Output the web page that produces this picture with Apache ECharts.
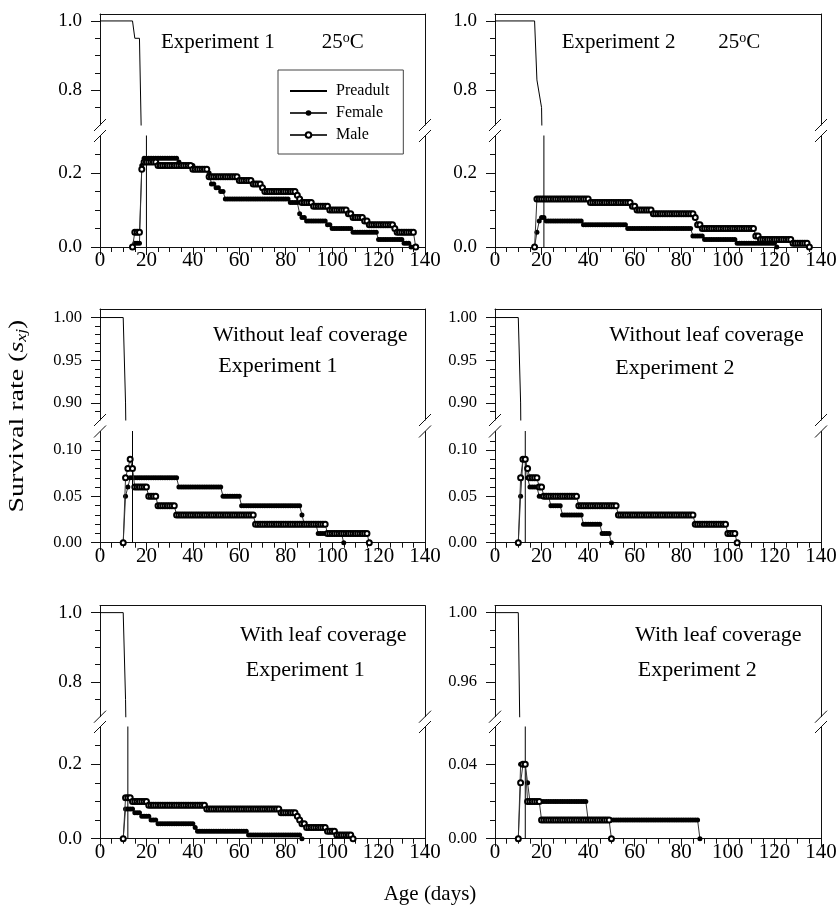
<!DOCTYPE html>
<html>
<head>
<meta charset="utf-8">
<script src="https://cdn.jsdelivr.net/npm/echarts@6/dist/echarts.min.js"></script>
<style>html,body{margin:0;padding:0;background:#fff}#c{width:836px;height:908px}</style>
</head>
<body>
<div id="c"></div>
<script>
// ---------------- DATA (survival rate per day of age) ----------------
const xTickValues = [0, 20, 40, 60, 80, 100, 120, 140];

// Panel A: Experiment 1, 25 oC
const preadultA = [[0, 1], [14, 1], [15, 0.95], [17, 0.95], [18, 0.6], [20, 0.32], [20, 0]];
const femaleStartA = 14;
const femaleA = [
  0,
  0.01, 0.01, 0.01,
  0.22,
  0.24, 0.24, 0.24, 0.24, 0.24, 0.24, 0.24, 0.24, 0.24, 0.24, 0.24, 0.24, 0.24, 0.24, 0.24,
  0.23,
  0.22, 0.22, 0.22, 0.22, 0.22, 0.22,
  0.21, 0.21, 0.21, 0.21, 0.21, 0.21,
  0.20,
  0.17, 0.17,
  0.16, 0.16,
  0.15, 0.15,
  0.13, 0.13, 0.13, 0.13, 0.13, 0.13, 0.13, 0.13, 0.13, 0.13,
  0.13, 0.13, 0.13, 0.13, 0.13, 0.13, 0.13, 0.13, 0.13, 0.13,
  0.13, 0.13, 0.13, 0.13, 0.13, 0.13, 0.13, 0.13,
  0.12, 0.12, 0.12, 0.12,
  0.09,
  0.08, 0.08,
  0.07, 0.07, 0.07, 0.07, 0.07, 0.07, 0.07, 0.07, 0.07,
  0.06, 0.06,
  0.05, 0.05, 0.05, 0.05, 0.05, 0.05, 0.05, 0.05, 0.05,
  0.04, 0.04, 0.04, 0.04, 0.04, 0.04, 0.04, 0.04, 0.04, 0.04, 0.04,
  0.02, 0.02, 0.02, 0.02, 0.02, 0.02, 0.02, 0.02, 0.02, 0.02, 0.02,
  0.01, 0.01, 0.01,
  0
];
const maleStartA = 14;
const maleA = [
  0,
  0.04, 0.04, 0.04,
  0.21,
  0.23, 0.23, 0.23, 0.23, 0.23, 0.23,
  0.22, 0.22, 0.22, 0.22, 0.22, 0.22, 0.22, 0.22, 0.22, 0.22, 0.22, 0.22, 0.22, 0.22, 0.22,
  0.21, 0.21, 0.21, 0.21, 0.21, 0.21, 0.21,
  0.19, 0.19, 0.19, 0.19, 0.19, 0.19, 0.19, 0.19, 0.19, 0.19, 0.19, 0.19, 0.19,
  0.18, 0.18, 0.18, 0.18, 0.18, 0.18,
  0.17, 0.17, 0.17, 0.17,
  0.16,
  0.15, 0.15, 0.15, 0.15, 0.15, 0.15, 0.15, 0.15, 0.15, 0.15, 0.15, 0.15, 0.15, 0.15,
  0.14,
  0.13,
  0.12, 0.12, 0.12, 0.12, 0.12,
  0.11, 0.11, 0.11, 0.11, 0.11, 0.11, 0.11,
  0.10, 0.10, 0.10, 0.10, 0.10, 0.10, 0.10, 0.10,
  0.09, 0.09,
  0.08, 0.08, 0.08, 0.08, 0.08,
  0.07, 0.07,
  0.06, 0.06, 0.06, 0.06, 0.06, 0.06, 0.06, 0.06, 0.06, 0.06, 0.06,
  0.05,
  0.04, 0.04, 0.04, 0.04, 0.04, 0.04, 0.04, 0.04,
  0
];

// Panel B: Experiment 2, 25 oC
const preadultB = [[0, 1], [17, 1], [18, 0.83], [20, 0.75], [21, 0.32], [21, 0]];
const femaleStartB = 17;
const femaleB = [
  0,
  0.04,
  0.07,
  0.08, 0.08,
  0.07, 0.07, 0.07, 0.07, 0.07, 0.07, 0.07, 0.07, 0.07, 0.07, 0.07, 0.07, 0.07, 0.07, 0.07, 0.07,
  0.06, 0.06, 0.06, 0.06, 0.06, 0.06, 0.06, 0.06, 0.06, 0.06, 0.06, 0.06, 0.06, 0.06, 0.06, 0.06, 0.06, 0.06, 0.06,
  0.05, 0.05, 0.05, 0.05, 0.05, 0.05, 0.05, 0.05, 0.05, 0.05,
  0.05, 0.05, 0.05, 0.05, 0.05, 0.05, 0.05, 0.05, 0.05, 0.05,
  0.05, 0.05, 0.05, 0.05, 0.05, 0.05, 0.05, 0.05,
  0.03, 0.03, 0.03, 0.03, 0.03,
  0.02, 0.02, 0.02, 0.02, 0.02, 0.02, 0.02, 0.02, 0.02, 0.02, 0.02, 0.02, 0.02, 0.02,
  0.01, 0.01, 0.01, 0.01, 0.01, 0.01, 0.01, 0.01, 0.01, 0.01, 0.01, 0.01, 0.01, 0.01, 0.01, 0.01, 0.01,
  0
];
const maleStartB = 17;
const maleB = [
  0,
  0.13, 0.13, 0.13, 0.13, 0.13, 0.13, 0.13, 0.13, 0.13, 0.13,
  0.13, 0.13, 0.13, 0.13, 0.13, 0.13, 0.13, 0.13, 0.13, 0.13,
  0.13, 0.13, 0.13,
  0.12, 0.12, 0.12, 0.12, 0.12, 0.12, 0.12, 0.12, 0.12, 0.12, 0.12, 0.12, 0.12, 0.12, 0.12, 0.12, 0.12, 0.12,
  0.11, 0.11,
  0.10, 0.10, 0.10, 0.10, 0.10, 0.10, 0.10,
  0.09, 0.09, 0.09, 0.09, 0.09, 0.09, 0.09, 0.09, 0.09, 0.09, 0.09, 0.09, 0.09, 0.09, 0.09, 0.09, 0.09, 0.09,
  0.08,
  0.06, 0.06,
  0.05, 0.05, 0.05, 0.05, 0.05, 0.05, 0.05, 0.05, 0.05, 0.05,
  0.05, 0.05, 0.05, 0.05, 0.05, 0.05, 0.05, 0.05, 0.05, 0.05,
  0.05, 0.05, 0.05,
  0.03, 0.03,
  0.02, 0.02, 0.02, 0.02, 0.02, 0.02, 0.02, 0.02, 0.02, 0.02, 0.02, 0.02, 0.02, 0.02,
  0.01, 0.01, 0.01, 0.01, 0.01, 0.01, 0.01,
  0
];

// Panel C: Without leaf coverage, Experiment 1
const preadultC = [[0, 1], [10, 1], [11, 0.9], [12, 0.7], [14, 0.13], [14, 0]];
const femaleStartC = 10;
const femaleC = [
  0,
  0.05,
  0.06,
  0.07, 0.07, 0.07, 0.07, 0.07, 0.07, 0.07, 0.07, 0.07, 0.07,
  0.07, 0.07, 0.07, 0.07, 0.07, 0.07, 0.07, 0.07, 0.07, 0.07, 0.07,
  0.06, 0.06, 0.06, 0.06, 0.06, 0.06, 0.06, 0.06, 0.06, 0.06, 0.06, 0.06, 0.06, 0.06, 0.06, 0.06, 0.06, 0.06, 0.06,
  0.05, 0.05, 0.05, 0.05, 0.05, 0.05, 0.05, 0.05,
  0.04, 0.04, 0.04, 0.04, 0.04, 0.04, 0.04, 0.04, 0.04, 0.04, 0.04, 0.04, 0.04,
  0.04, 0.04, 0.04, 0.04, 0.04, 0.04, 0.04, 0.04, 0.04, 0.04, 0.04, 0.04, 0.04,
  0.03,
  0.02, 0.02, 0.02, 0.02, 0.02, 0.02,
  0.01, 0.01, 0.01, 0.01, 0.01, 0.01, 0.01, 0.01, 0.01, 0.01, 0.01,
  0
];
const maleStartC = 10;
const maleC = [
  0,
  0.07,
  0.08,
  0.09,
  0.08,
  0.06, 0.06, 0.06, 0.06, 0.06, 0.06,
  0.05, 0.05, 0.05, 0.05,
  0.04, 0.04, 0.04, 0.04, 0.04, 0.04, 0.04, 0.04,
  0.03, 0.03, 0.03, 0.03, 0.03, 0.03, 0.03, 0.03, 0.03, 0.03, 0.03, 0.03, 0.03, 0.03, 0.03, 0.03, 0.03,
  0.03, 0.03, 0.03, 0.03, 0.03, 0.03, 0.03, 0.03, 0.03, 0.03, 0.03, 0.03, 0.03, 0.03, 0.03, 0.03, 0.03,
  0.02, 0.02, 0.02, 0.02, 0.02, 0.02, 0.02, 0.02, 0.02, 0.02, 0.02, 0.02, 0.02, 0.02, 0.02, 0.02,
  0.02, 0.02, 0.02, 0.02, 0.02, 0.02, 0.02, 0.02, 0.02, 0.02, 0.02, 0.02, 0.02, 0.02, 0.02,
  0.01, 0.01, 0.01, 0.01, 0.01, 0.01, 0.01, 0.01, 0.01, 0.01, 0.01, 0.01, 0.01, 0.01, 0.01, 0.01, 0.01, 0.01,
  0
];

// Panel D: Without leaf coverage, Experiment 2
const preadultD = [[0, 1], [10, 1], [11, 0.9], [12, 0.6], [13, 0.13], [13, 0]];
const femaleStartD = 10;
const femaleD = [
  0,
  0.05,
  0.09, 0.09,
  0.07,
  0.06, 0.06, 0.06, 0.06,
  0.05, 0.05, 0.05, 0.05, 0.05,
  0.04, 0.04, 0.04, 0.04, 0.04,
  0.03, 0.03, 0.03, 0.03, 0.03, 0.03, 0.03, 0.03, 0.03,
  0.02, 0.02, 0.02, 0.02, 0.02, 0.02, 0.02, 0.02,
  0.01, 0.01, 0.01, 0.01,
  0
];
const maleStartD = 10;
const maleD = [
  0,
  0.07,
  0.09, 0.09,
  0.08,
  0.07, 0.07, 0.07, 0.07,
  0.06, 0.06,
  0.05, 0.05, 0.05, 0.05, 0.05, 0.05, 0.05, 0.05, 0.05, 0.05, 0.05, 0.05, 0.05, 0.05, 0.05,
  0.04, 0.04, 0.04, 0.04, 0.04, 0.04, 0.04, 0.04, 0.04, 0.04, 0.04, 0.04, 0.04, 0.04, 0.04, 0.04, 0.04,
  0.03, 0.03, 0.03, 0.03, 0.03, 0.03, 0.03, 0.03, 0.03, 0.03, 0.03,
  0.03, 0.03, 0.03, 0.03, 0.03, 0.03, 0.03, 0.03, 0.03, 0.03, 0.03,
  0.03, 0.03, 0.03, 0.03, 0.03, 0.03, 0.03, 0.03, 0.03, 0.03, 0.03,
  0.02, 0.02, 0.02, 0.02, 0.02, 0.02, 0.02, 0.02, 0.02, 0.02, 0.02, 0.02, 0.02, 0.02,
  0.01, 0.01, 0.01, 0.01,
  0
];

// Panel E: With leaf coverage, Experiment 1
const preadultE = [[0, 1], [10, 1], [11, 0.75], [12, 0.31], [12, 0]];
const femaleStartE = 10;
const femaleE = [
  0,
  0.08, 0.08, 0.08, 0.08,
  0.07, 0.07, 0.07,
  0.06, 0.06, 0.06, 0.06,
  0.05, 0.05, 0.05,
  0.04, 0.04, 0.04, 0.04, 0.04, 0.04, 0.04, 0.04, 0.04, 0.04, 0.04, 0.04, 0.04, 0.04, 0.04, 0.04,
  0.03,
  0.02, 0.02, 0.02, 0.02, 0.02, 0.02, 0.02, 0.02, 0.02, 0.02, 0.02,
  0.02, 0.02, 0.02, 0.02, 0.02, 0.02, 0.02, 0.02, 0.02, 0.02, 0.02,
  0.01, 0.01, 0.01, 0.01, 0.01, 0.01, 0.01, 0.01, 0.01, 0.01, 0.01, 0.01,
  0.01, 0.01, 0.01, 0.01, 0.01, 0.01, 0.01, 0.01, 0.01, 0.01, 0.01,
  0
];
const maleStartE = 10;
const maleE = [
  0,
  0.11, 0.11, 0.11,
  0.10, 0.10, 0.10, 0.10, 0.10, 0.10, 0.10,
  0.09, 0.09, 0.09, 0.09, 0.09, 0.09, 0.09, 0.09, 0.09, 0.09, 0.09, 0.09, 0.09,
  0.09, 0.09, 0.09, 0.09, 0.09, 0.09, 0.09, 0.09, 0.09, 0.09, 0.09, 0.09,
  0.08, 0.08, 0.08, 0.08, 0.08, 0.08, 0.08, 0.08, 0.08, 0.08, 0.08, 0.08, 0.08, 0.08, 0.08, 0.08,
  0.08, 0.08, 0.08, 0.08, 0.08, 0.08, 0.08, 0.08, 0.08, 0.08, 0.08, 0.08, 0.08, 0.08, 0.08, 0.08,
  0.07, 0.07, 0.07, 0.07, 0.07, 0.07, 0.07,
  0.06,
  0.05,
  0.04, 0.04,
  0.03, 0.03, 0.03, 0.03, 0.03, 0.03, 0.03, 0.03, 0.03,
  0.02, 0.02, 0.02, 0.02,
  0.01, 0.01, 0.01, 0.01, 0.01, 0.01, 0.01,
  0
];

// Panel F: With leaf coverage, Experiment 2
const preadultF = [[0, 1], [10, 1], [11, 0.9], [13, 0.07], [13, 0]];
const femaleStartF = 10;
const femaleF = [
  0,
  0.04, 0.04, 0.04,
  0.03,
  0.02, 0.02, 0.02, 0.02, 0.02, 0.02, 0.02, 0.02, 0.02, 0.02, 0.02, 0.02, 0.02,
  0.02, 0.02, 0.02, 0.02, 0.02, 0.02, 0.02, 0.02, 0.02, 0.02, 0.02, 0.02,
  0.01, 0.01, 0.01, 0.01, 0.01, 0.01, 0.01, 0.01, 0.01, 0.01, 0.01, 0.01,
  0.01, 0.01, 0.01, 0.01, 0.01, 0.01, 0.01, 0.01, 0.01, 0.01, 0.01, 0.01,
  0.01, 0.01, 0.01, 0.01, 0.01, 0.01, 0.01, 0.01, 0.01, 0.01, 0.01, 0.01,
  0.01, 0.01, 0.01, 0.01, 0.01, 0.01, 0.01, 0.01, 0.01, 0.01, 0.01, 0.01,
  0
];
const maleStartF = 10;
const maleF = [
  0,
  0.03,
  0.04, 0.04,
  0.02, 0.02, 0.02, 0.02, 0.02, 0.02,
  0.01, 0.01, 0.01, 0.01, 0.01, 0.01, 0.01, 0.01, 0.01, 0.01,
  0.01, 0.01, 0.01, 0.01, 0.01, 0.01, 0.01, 0.01, 0.01, 0.01,
  0.01, 0.01, 0.01, 0.01, 0.01, 0.01, 0.01, 0.01, 0.01, 0.01,
  0
];

// Axis tick / label values
const ticksHigh1 = [0.8, 1.0], minorHigh1 = [0.75, 0.85, 0.9, 0.95];
const ticksLow1 = [0, 0.2], minorLow1 = [0.05, 0.1, 0.15, 0.25];
const ticksHigh2 = [0.90, 0.95, 1.00], minorHigh2 = [0.89, 0.91, 0.92, 0.93, 0.94, 0.96, 0.97, 0.98, 0.99];
const ticksLow2 = [0, 0.05, 0.10], minorLow2 = [0.01, 0.02, 0.03, 0.04, 0.06, 0.07, 0.08, 0.09, 0.11];
const ticksHigh3 = [0.96, 1.00], minorHigh3 = [0.95, 0.97, 0.98, 0.99];
const ticksLow3 = [0, 0.04], minorLow3 = [0.01, 0.02, 0.03, 0.05];

const panelTexts = [
  ['Experiment 1', '25{s|o}C'],
  ['Experiment 2', '25{s|o}C'],
  ['Without leaf coverage', 'Experiment 1'],
  ['Without leaf coverage', 'Experiment 2'],
  ['With leaf coverage', 'Experiment 1'],
  ['With leaf coverage', 'Experiment 2']
];

// ---------------- LAYOUT / STYLE ----------------
const FONT = "'Liberation Serif','Times New Roman',Times,serif";
const INK = '#111';
const cols = [{ left: 100, width: 325 }, { left: 495, width: 326 }];
const rows = [
  { upTop: 14, upH: 111, loTop: 136, loH: 111, txt: 21 },
  { upTop: 309, upH: 111, loTop: 431.5, loH: 111.2, txt: 22 },
  { upTop: 605.7, upH: 111, loTop: 727, loH: 111.7, txt: 22 }
];

const panels = [
  { row: 0, col: 0, up: [0.7, 1.02], upT: ticksHigh1, upM: minorHigh1, lo: [0, 0.3], loT: ticksLow1, loM: minorLow1, dec: 1,
    p: preadultA, fS: femaleStartA, f: femaleA, mS: maleStartA, m: maleA },
  { row: 0, col: 1, up: [0.7, 1.02], upT: ticksHigh1, upM: minorHigh1, lo: [0, 0.3], loT: ticksLow1, loM: minorLow1, dec: 1,
    p: preadultB, fS: femaleStartB, f: femaleB, mS: maleStartB, m: maleB },
  { row: 1, col: 0, up: [0.88, 1.01], upT: ticksHigh2, upM: minorHigh2, lo: [0, 0.12], loT: ticksLow2, loM: minorLow2, dec: 2,
    p: preadultC, fS: femaleStartC, f: femaleC, mS: maleStartC, m: maleC },
  { row: 1, col: 1, up: [0.88, 1.01], upT: ticksHigh2, upM: minorHigh2, lo: [0, 0.12], loT: ticksLow2, loM: minorLow2, dec: 2,
    p: preadultD, fS: femaleStartD, f: femaleD, mS: maleStartD, m: maleD },
  { row: 2, col: 0, up: [0.7, 1.02], upT: ticksHigh1, upM: minorHigh1, lo: [0, 0.3], loT: ticksLow1, loM: minorLow1, dec: 1,
    p: preadultE, fS: femaleStartE, f: femaleE, mS: maleStartE, m: maleE },
  { row: 2, col: 1, up: [0.94, 1.004], upT: ticksHigh3, upM: minorHigh3, lo: [0, 0.06], loT: ticksLow3, loM: minorLow3, dec: 2,
    p: preadultF, fS: femaleStartF, f: femaleF, mS: maleStartF, m: maleF }
];

const textPos = [
  [[161, 42], [321.7, 42]],
  [[561.7, 42], [718.3, 42]],
  [[213, 335], [218.3, 366]],
  [[609.3, 335], [615.3, 368]],
  [[240, 635], [245.7, 670]],
  [[635, 635], [637.7, 670]]
];

const grid = [], xAxis = [], yAxis = [], series = [], graphic = [];
const axisLine = { show: true, lineStyle: { color: INK, width: 1 } };

function addY(gi, range, major, minor, dec) {
  const idx = yAxis.length;
  yAxis.push({
    type: 'value', gridIndex: gi, min: range[0], max: range[1], position: 'left',
    axisLine: axisLine, splitLine: { show: false },
    axisTick: { show: true, customValues: major, length: 9, lineStyle: { color: INK } },
    axisLabel: { customValues: major, margin: 18, fontFamily: FONT, fontSize: dec === 1 ? 19 : 16.5, color: '#000',
      formatter: v => Number(v).toFixed(dec) }
  });
  yAxis.push({
    type: 'value', gridIndex: gi, min: range[0], max: range[1], position: 'left',
    axisLine: { show: false }, splitLine: { show: false }, axisLabel: { show: false },
    axisTick: { show: true, customValues: minor, length: 5, lineStyle: { color: INK } }
  });
  yAxis.push({
    type: 'value', gridIndex: gi, min: range[0], max: range[1], position: 'right',
    axisLine: axisLine, splitLine: { show: false }, axisLabel: { show: false }, axisTick: { show: false }
  });
  return idx;
}

panels.forEach((pn, k) => {
  const c = cols[pn.col], r = rows[pn.row];
  const gu = grid.length;
  grid.push({ left: c.left, top: r.upTop, width: c.width, height: r.upH, outerBoundsMode: 'none' });
  grid.push({ left: c.left, top: r.loTop, width: c.width, height: r.loH, outerBoundsMode: 'none' });
  const gl = gu + 1;
  const xu = xAxis.length;
  xAxis.push({
    type: 'value', gridIndex: gu, min: 0, max: 140, position: 'top',
    axisLine: axisLine, axisTick: { show: false }, axisLabel: { show: false }, splitLine: { show: false }
  });
  xAxis.push({
    type: 'value', gridIndex: gl, min: 0, max: 140, interval: 20, position: 'bottom',
    axisLine: axisLine, splitLine: { show: false }, minorSplitLine: { show: false },
    axisTick: { show: true, length: 8, lineStyle: { color: INK } },
    minorTick: { show: true, splitNumber: 4, length: 5, lineStyle: { color: INK } },
    axisLabel: { margin: 3, customValues: xTickValues, fontFamily: FONT, fontSize: 21, color: '#000' }
  });
  const yu = addY(gu, pn.up, pn.upT, pn.upM, pn.dec);
  const yl = addY(gl, pn.lo, pn.loT, pn.loM, pn.dec);

  const preStyle = { type: 'line', name: 'Preadult', symbol: 'none', clip: true, z: 2,
    lineStyle: { color: '#000', width: 1 }, itemStyle: { color: '#000' }, data: pn.p };
  series.push(Object.assign({ xAxisIndex: xu, yAxisIndex: yu }, preStyle));
  series.push(Object.assign({ xAxisIndex: xu + 1, yAxisIndex: yl }, preStyle));
  series.push({
    type: 'line', name: 'Female', xAxisIndex: xu + 1, yAxisIndex: yl, clip: true, z: 3,
    symbol: 'circle', symbolSize: 5, showAllSymbol: true,
    lineStyle: { color: '#333', width: 1 }, itemStyle: { color: '#000' },
    data: pn.f.map((v, i) => [pn.fS + i, v])
  });
  series.push({
    type: 'line', name: 'Male', xAxisIndex: xu + 1, yAxisIndex: yl, clip: true, z: 4,
    symbol: 'emptyCircle', symbolSize: 5, showAllSymbol: true,
    lineStyle: { color: '#333', width: 1 }, itemStyle: { color: '#000', borderColor: '#000', borderWidth: 0.8 },
    data: pn.m.map((v, i) => [pn.mS + i, v])
  });

  // axis-break marks
  [c.left, c.left + c.width].forEach(x => {
    [r.upTop + r.upH, r.loTop].forEach(y => {
      graphic.push({ type: 'line', shape: { x1: x - 6, y1: y + 6, x2: x + 6, y2: y - 6 },
        style: { stroke: INK, lineWidth: 1 }, z: 10 });
    });
  });

  // panel annotations
  const txt = panelTexts[k], pos = textPos[k];
  txt.forEach((t, j) => {
    graphic.push({ type: 'text', x: pos[j][0], y: pos[j][1], z: 10,
      style: { text: t, fontFamily: FONT, fontSize: r.txt, fill: '#000', align: 'left', verticalAlign: 'middle',
        rich: { s: { fontSize: 14, fontFamily: FONT, fill: '#000', verticalAlign: 'top', lineHeight: 12 } } } });
  });
});

// axis titles
graphic.push({ type: 'text', x: 17, y: 416, rotation: Math.PI / 2, scaleX: 1.27, z: 10,
  style: { text: '{n|Survival rate (}{i|s}{b|xj}{n|)}', align: 'center', verticalAlign: 'middle',
    rich: {
      n: { fontFamily: FONT, fontSize: 22, fill: '#000', lineHeight: 24 },
      i: { fontFamily: FONT, fontSize: 22, fontStyle: 'italic', fill: '#000', lineHeight: 24 },
      b: { fontFamily: FONT, fontSize: 14, fontStyle: 'italic', fill: '#000', lineHeight: 14, verticalAlign: 'bottom' }
    } } });
graphic.push({ type: 'text', x: 430, y: 894, z: 10,
  style: { text: 'Age (days)', fontFamily: FONT, fontSize: 21, fill: '#000', align: 'center', verticalAlign: 'middle' } });

const chart = echarts.init(document.getElementById('c'), null, { renderer: 'canvas', width: 836, height: 908 });
chart.setOption({
  animation: false,
  backgroundColor: '#fff',
  grid: grid, xAxis: xAxis, yAxis: yAxis, series: series, graphic: graphic,
  legend: {
    show: true, selectedMode: false, orient: 'vertical', left: 278, top: 70,
    data: [{ name: 'Preadult', itemStyle: { opacity: 0 } }, 'Female', 'Male'],
    itemWidth: 37, itemHeight: 7, itemGap: 6,
    padding: [13, 14, 11, 11],
    borderColor: '#444', borderWidth: 1, backgroundColor: '#fff',
    textStyle: { fontFamily: FONT, fontSize: 16, color: '#000', padding: [0, 0, 0, 4] }
  }
});
</script>
</body>
</html>
